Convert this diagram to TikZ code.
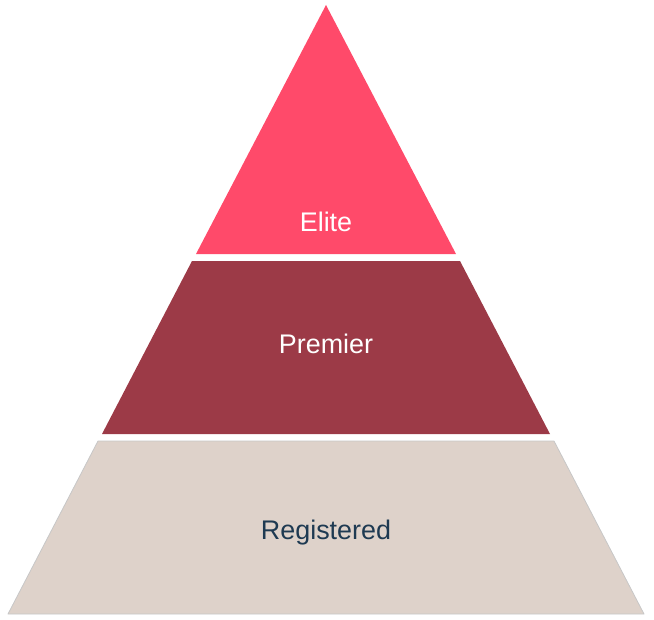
\documentclass[tikz,border=0pt]{standalone}
\usepackage{fontspec}
\setmainfont{Liberation Sans}
\definecolor{elite}{HTML}{FF4A6A}
\definecolor{premier}{HTML}{9C3A47}
\definecolor{registered}{HTML}{DED2CA}
\definecolor{navy}{HTML}{1E3A52}
\begin{document}
\begin{tikzpicture}[x=1bp, y=-1bp, line join=round,
    lbl/.style={font=\fontsize{27}{32}\selectfont}]
            \useasboundingbox(0,0)rectangle(654,620);
            \fill[elite](326,5)--(456,254)--(196,254)--cycle;
            \fill[premier](192,261)--(460,261)--(550,434)--(102,434)--cycle;
            \draw[registered, fill=registered, draw=black!22, line width=0.8bp](98,441)--(554,441)--(644,614)--(8,614)--cycle;
            \foreach \n/\t/\y/\c in{elite/Elite/222/white,premier/Premier/344/white,registered/Registered/533/navy}
            \node[lbl, text=\c](\n)at(326,\y){\t};
        \end{tikzpicture}
\end{document}
